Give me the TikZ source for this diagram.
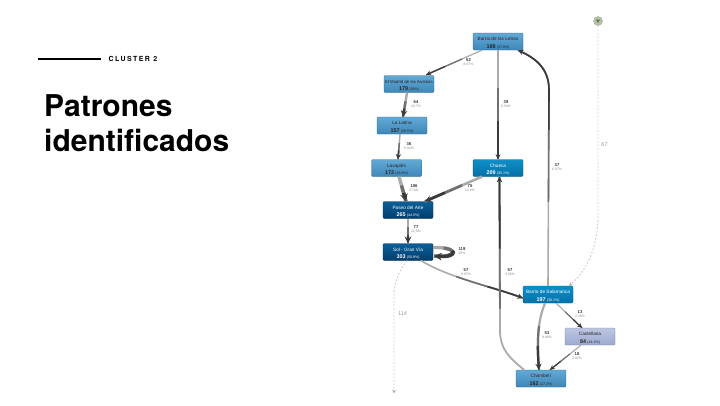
\documentclass[tikz,border=0pt]{standalone}
\usepackage{fontspec}
\setmainfont{Liberation Sans}
\newfontfamily\headfont{TeX Gyre Heros}
\newfontfamily\clusterfont[LetterSpace=20]{TeX Gyre Heros}
\usetikzlibrary{calc,positioning,arrows.meta}

\definecolor{flowdark}{HTML}{3A3A3A}
\definecolor{flowmid}{HTML}{707070}
\definecolor{flowlight}{HTML}{ABABAB}
\definecolor{pctgray}{HTML}{8A8A8A}
\definecolor{dashgray}{HTML}{CCCCCC}
\definecolor{startgreen}{HTML}{B4C3A4}
\definecolor{midtop}{HTML}{62A9D6}
\definecolor{midbot}{HTML}{3F87B8}
\definecolor{darktop}{HTML}{0A5F98}
\definecolor{darkbot}{HTML}{033D6C}
\definecolor{brighttop}{HTML}{0F8FC8}
\definecolor{brightbot}{HTML}{0570A8}
\definecolor{paletop}{HTML}{BCC6E2}
\definecolor{palebot}{HTML}{9DAACF}

\tikzset{
	barrio/.style={draw=#1!75!black,line width=0.3pt,rounded corners=1.2pt,minimum width=50pt,minimum height=17pt,inner sep=0pt,align=center,font=\fontsize{4.7}{7}\selectfont},
	midbox/.style={barrio=midbot,top color=midtop,bottom color=midbot,text=black!85},
	darkbox/.style={barrio=darkbot,top color=darktop,bottom color=darkbot,text=white},
	brightbox/.style={barrio=brightbot,top color=brighttop,bottom color=brightbot,text=white},
	palebox/.style={barrio=palebot,top color=paletop,bottom color=palebot,text=black!85},
	flow/.style 2 args={draw=flowdark,line width=#1,dash pattern=on 0pt off 0.65*#2 on 2000pt off 0pt,-{Stealth[length=3.5pt 1.2,width=3.5pt 1.2]},
		preaction={draw=flowlight,line width=#1,solid,-},
		preaction={draw=flowmid,line width=#1,dash pattern=on 0pt off 0.35*#2 on 2000pt off 0pt,-}},
	dashflow/.style={draw=dashgray,line width=0.9pt,dash pattern=on 1.8pt off 1.8pt,-{Stealth[length=3.5pt,width=3.5pt,color=gray!70]}},
	edgelabel/.style={align=center,inner sep=0pt,font=\fontsize{4.2}{4.6}\selectfont\bfseries,text=black!80},
	looselabel/.style={inner sep=0pt,font=\fontsize{5.5}{6}\selectfont,text=black!40},
}

\newcommand{\boxtext}[3]{\rule{0pt}{6.5pt}#1\\[0.4pt]{\bfseries\fontsize{5.4}{7}\selectfont #2} {\fontsize{3.6}{4}\selectfont (#3)}}
\newcommand{\edgetext}[2]{#1\\{\mdseries\fontsize{3.4}{4}\selectfont\color{pctgray}#2}}

\begin{document}
\begin{tikzpicture}[x=1pt,y=-1pt]
	\useasboundingbox (0,0) rectangle (720,405);

	% left column
	\coordinate (rulestart) at (38,59);
	\coordinate (ruleend) at (101,59);
	\draw[line width=1.6pt] (rulestart) -- (ruleend);
	\node[anchor=west,inner sep=0pt,font=\clusterfont\fontsize{7}{8}\selectfont\bfseries] (cluster) at (108.5,59) {CLUSTER 2};
	\node[anchor=north west,inner sep=0pt,align=left,font=\headfont\fontsize{30}{35.5}\selectfont\bfseries] (title) at (44,94) {Patrones\\identificados};

	% barrios
	\node[midbox] (letras) at (498,41.5) {\boxtext{Barrio de las Letras}{188}{37.8\%}};
	\node[midbox,font=\fontsize{4.3}{7}\selectfont] (madrid) at (409,84) {\boxtext{El Madrid de los Austrias}{179}{36\%}};
	\node[midbox] (latina) at (402,125.5) {\boxtext{La Latina}{157}{26.5\%}};
	\node[midbox] (lavapies) at (396.5,168) {\boxtext{Lavapiés}{172}{28.8\%}};
	\node[brightbox] (chueca) at (498,168) {\boxtext{Chueca}{209}{35.1\%}};
	\node[darkbox] (paseo) at (408,210) {\boxtext{Paseo del Arte}{265}{44.5\%}};
	\node[darkbox] (sol) at (408,252) {\boxtext{Sol - Gran Vía}{303}{50.8\%}};
	\node[brightbox] (salamanca) at (548,294.5) {\boxtext{Barrio de Salamanca}{197}{30.1\%}};
	\node[palebox] (castellana) at (590,336.5) {\boxtext{Castellana}{84}{14.1\%}};
	\node[midbox] (chamberi) at (541,378.5) {\boxtext{Chamberí}{162}{27.2\%}};

	% start and end
	\node[circle,fill=startgreen,draw=startgreen!80!black,line width=0.3pt,minimum size=9pt,inner sep=0pt] (start) at (598,21) {};
	\fill[startgreen!55!black] ([shift={(-2,-1.3)}]start.center) -- ([shift={(2,-1.3)}]start.center) -- ([shift={(0,1.8)}]start.center) -- cycle;
	\node[inner sep=0pt,minimum size=1pt] (finish) at (394,394) {};

	% flows
	\draw[flow={1.2pt}{62pt}] ([xshift=-16pt]letras.south) -- ([xshift=-8pt,yshift=0.5pt]madrid.north east);
	\draw[flow={1.3pt}{109pt}] (letras.south) -- (chueca.north);
	\draw[flow={2.4pt}{25pt}] ([xshift=-2pt]madrid.south) -- ([xshift=1pt]latina.north);
	\draw[flow={1.5pt}{25pt}] ([xshift=-2pt]latina.south) -- ([xshift=1.5pt]lavapies.north);
	\draw[flow={3.4pt}{26pt}] ([xshift=2.5pt]lavapies.south) -- ([xshift=-2pt]paseo.north);
	\draw[flow={2.6pt}{62pt}] ([xshift=-16pt]chueca.south) -- ([xshift=17pt]paseo.north);
	\draw[flow={2.8pt}{25pt}] (paseo.south) -- (sol.north);
	\draw[flow={3.4pt}{30pt}] ([yshift=4.5pt]sol.east) .. controls (460,247) and (458,258) .. ([yshift=-4pt,xshift=1pt]sol.east);
	\draw[flow={1.6pt}{110pt}] ([xshift=13pt]sol.south) .. controls (450,278) and (490,286) .. ([yshift=-3.5pt]salamanca.west);
	\draw[flow={1.6pt}{240pt}] (salamanca.north) -- ++(1,-196) .. controls (549,68) and (535,58) .. ([xshift=20pt]letras.south);
	\draw[flow={1.1pt}{36pt}] ([xshift=8pt]salamanca.south) -- ([xshift=-8pt]castellana.north);
	\draw[flow={2.2pt}{67pt}] ([xshift=-3pt]salamanca.south) .. controls (537,322) and (537,345) .. ([xshift=-2pt]chamberi.north);
	\draw[flow={1.1pt}{40pt}] ([xshift=-9pt]castellana.south) -- ([xshift=9pt]chamberi.north);
	\draw[flow={1.8pt}{200pt}] ([xshift=-17pt]chamberi.north) .. controls (510,358) and (500,350) .. (500,330) -- ([xshift=1.5pt]chueca.south);
	\draw[dashflow] (start.south) -- (598,215) .. controls (598,250) and (585,272) .. ([xshift=-4pt]salamanca.north east);
	\draw[dashflow] ([xshift=-1pt]sol.south) .. controls (400,270) and (394,280) .. (394,296) -- (finish);

	% flow labels
	\node[edgelabel] (l52) at (468.5,62) {\edgetext{52}{8.67\%}};
	\node[edgelabel] (l64) at (416,104) {\edgetext{64}{10.7\%}};
	\node[edgelabel] (l39) at (506,104) {\edgetext{39}{6.54\%}};
	\node[edgelabel] (l36) at (409,146) {\edgetext{36}{6.04\%}};
	\node[edgelabel] (l106) at (414,188) {\edgetext{106}{17.8\%}};
	\node[edgelabel] (l75) at (470,188) {\edgetext{75}{12.6\%}};
	\node[edgelabel] (l77) at (416,229) {\edgetext{77}{12.9\%}};
	\node[edgelabel] (l119) at (462,251) {\edgetext{119}{20\%}};
	\node[edgelabel] (l57a) at (466,272) {\edgetext{57}{9.07\%}};
	\node[edgelabel] (l57b) at (510,272) {\edgetext{57}{9.56\%}};
	\node[edgelabel] (l37) at (557,167) {\edgetext{37}{6.07\%}};
	\node[edgelabel] (l13) at (580,314) {\edgetext{13}{2.18\%}};
	\node[edgelabel] (l53) at (547,335) {\edgetext{53}{8.89\%}};
	\node[edgelabel] (l18) at (577,356) {\edgetext{18}{3.02\%}};
	\node[looselabel] (l67) at (604.5,145) {67};
	\node[looselabel] (l114) at (402.5,314) {114};
\end{tikzpicture}
\end{document}
